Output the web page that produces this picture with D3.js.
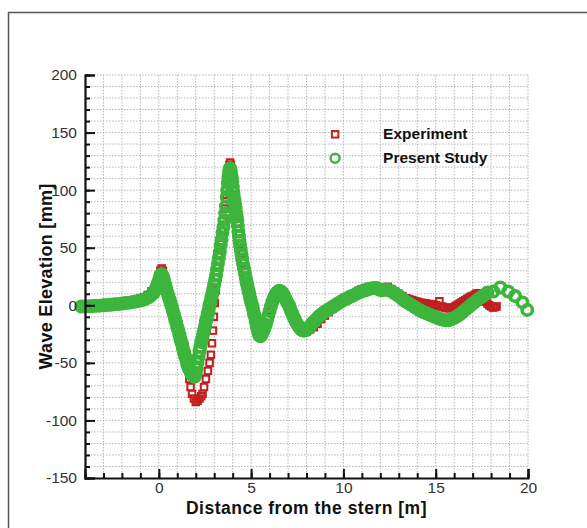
<!DOCTYPE html>
<html>
<head>
<meta charset="utf-8">
<script src="https://cdn.jsdelivr.net/npm/d3@7"></script>
<style>
  body { margin: 0; background: #fff; }
  svg { display: block; font-family: "Liberation Sans", Arial, sans-serif; }
</style>
</head>
<body>
<div id="chart"></div>
<script>
// Experiment (red squares)
var expX = [-3.8, -3.4, -3.0, -2.6, -2.2, -1.8, -1.4, -1.0, -0.8, -0.6, -0.4, -0.25, -0.1, 0.0, 0.08, 0.15, 0.22, 0.3,
  0.4, 0.5, 0.6, 0.7, 0.8, 0.9, 1.0, 1.1, 1.2, 1.3, 1.4, 1.5, 1.55, 1.6, 1.65, 1.72, 1.8, 1.9, 2.0, 2.1, 2.2, 2.3, 2.37,
  2.45, 2.55, 2.66, 2.75, 2.82, 2.88, 2.93, 2.98, 3.03, 3.08, 3.14, 3.2, 3.27, 3.34, 3.42, 3.5, 3.58, 3.65, 3.72, 3.78,
  3.83, 3.86, 3.9, 3.95, 4.0, 4.06,
  4.12, 4.2, 4.28, 4.36, 4.44, 4.52, 4.6, 4.68, 4.76, 4.85, 4.95, 5.05, 5.15, 5.22, 5.3, 5.36, 5.42, 5.5, 5.6, 5.7, 5.8,
  5.9, 6.0, 6.1, 6.2, 6.3, 6.4, 6.5, 6.6, 6.7, 6.8, 6.9, 7.0, 7.1, 7.2, 7.3, 7.4, 7.5, 7.6, 7.7, 7.8, 7.9, 8.0, 8.2, 8.4,
  8.6, 8.8, 9.0, 9.2, 9.4, 9.6, 9.8, 10.0, 10.2, 10.4, 10.6, 10.8, 11.0, 11.2, 11.4, 11.6, 11.8, 12.0, 12.2, 12.4, 12.6,
  12.8, 13.0, 13.2, 13.4, 13.5, 13.6, 13.7, 13.8, 13.9, 14.0, 14.1, 14.2, 14.3, 14.4, 14.5, 14.6, 14.7, 14.8, 14.9, 15.0,
  15.1, 15.2, 15.3, 15.4, 15.5, 15.6, 15.7, 15.8, 15.9, 16.0, 16.1, 16.2, 16.3, 16.4, 16.5, 16.6, 16.7, 16.8, 16.9, 17.0,
  17.1, 17.2, 17.3, 17.4, 17.5, 17.6, 17.7, 17.8, 17.9, 18.0, 18.1, 18.2, 18.3];
var expY = [0, 0.5, 1, 1.5, 2, 2.5, 3.5, 5.5, 7, 9, 12, 15, 20, 26, 30, 32, 30, 24,
  17, 10, 4, -2, -8, -14, -20, -25, -28, -31, -36, -42, -48, -56, -64, -71, -77, -81, -84, -83, -81, -79, -77,
  -71, -64, -57, -50, -43, -33, -22, -10, 2, 13, 24, 34, 44, 54, 64, 73, 84, 96, 108, 117,
  122, 124, 122, 117, 110, 101,
  92, 82, 72, 62, 53, 45, 38, 31, 24, 17, 10, 3, -4, -10, -16, -21, -25, -27, -25, -21, -16,
  -10, -5, 0, 5, 9, 12, 13, 12, 10, 7, 4, 1, -3, -7, -11, -14, -17, -19, -21, -22, -23, -23, -21, -19,
  -16, -12, -9, -6, -3, 0, 2, 5, 7, 8.5, 10, 12.5, 14, 15, 16, 16.5, 16, 15, 15.5, 16, 14,
  12, 10, 8, 6, 5.5, 5, 4.5, 4, 3.5, 3, 2.5, 2, 2, 1.5, 1.5, 1, 1, 0.5, 0.5, 0,
  -0.5, 3.5, -1, -1.5, -2, -2.5, -2.5, -2.5, -2, -1.5, -0.5, 0.5, 1.5, 2.5, 3.5, 4.5, 5.5, 6.5, 7.5, 8,
  9, 10, 10.5, 10, 8, 5.5, 3, 1.5, 0, -1, -2, -1.5, -1];

// Present Study (green circles)
var simX = [-4.2, -4.0, -3.8, -3.6, -3.4, -3.2, -3.0, -2.8, -2.6, -2.4, -2.2, -2.0, -1.8, -1.6, -1.4, -1.2, -1.0, -0.8,
  -0.6, -0.5, -0.4, -0.3, -0.25, -0.2, -0.15, -0.1, -0.05, 0.0, 0.04, 0.08, 0.12,
  0.15, 0.22, 0.28, 0.34, 0.40, 0.46, 0.52, 0.58, 0.64, 0.70, 0.76, 0.82, 0.88, 0.94, 1.00, 1.06, 1.12, 1.18, 1.24, 1.30,
  1.36, 1.42, 1.48, 1.54, 1.60, 1.66, 1.72, 1.78, 1.84,
  1.90, 1.95, 2.00, 2.05, 2.10, 2.15, 2.20, 2.25, 2.30, 2.35, 2.40, 2.45, 2.50, 2.55, 2.60, 2.65, 2.70, 2.75, 2.80, 2.85,
  2.90, 2.95, 3.00, 3.05, 3.10, 3.15, 3.20, 3.25, 3.30, 3.35, 3.40, 3.45, 3.50, 3.55, 3.60, 3.64, 3.68, 3.71, 3.74, 3.77,
  3.80, 3.83, 3.86, 3.89, 3.92,
  3.95, 3.98, 4.01, 4.04, 4.07, 4.10, 4.13, 4.16, 4.19, 4.22, 4.25, 4.28, 4.31, 4.34, 4.37, 4.40, 4.44, 4.48, 4.52, 4.56,
  4.61, 4.66, 4.71, 4.75, 4.80, 4.85, 4.90, 4.95, 5.00, 5.05, 5.10, 5.15, 5.20, 5.25, 5.30, 5.35, 5.40, 5.45, 5.50, 5.55,
  5.60, 5.65,
  5.72, 5.79, 5.86, 5.93, 6.0, 6.07, 6.14, 6.21, 6.28, 6.35, 6.42, 6.49, 6.56, 6.63, 6.7, 6.77, 6.84, 6.91, 6.98, 7.05,
  7.12, 7.19, 7.26, 7.33, 7.4, 7.47, 7.54, 7.61, 7.68, 7.75, 7.82, 7.9, 7.98, 8.06, 8.14, 8.22,
  8.35, 8.5, 8.65, 8.8, 8.95, 9.1, 9.25, 9.4, 9.55, 9.7, 9.85, 10.0, 10.15, 10.3, 10.45, 10.6, 10.75, 10.9, 11.05, 11.2,
  11.35, 11.5, 11.65, 11.8, 11.95, 12.1, 12.25, 12.4, 12.55, 12.7, 12.85, 13.0, 13.15, 13.3, 13.45, 13.6, 13.75, 13.9,
  14.05, 14.2, 14.35, 14.5, 14.65, 14.8, 14.95, 15.1, 15.25, 15.4, 15.55, 15.7, 15.85, 16.0, 16.15, 16.3, 16.45, 16.6,
  16.75, 16.9, 17.05, 17.2, 17.35, 17.5, 17.65, 17.8,
  18.12, 18.5, 18.93, 19.3, 19.7, 19.96];
var simY = [-1, -1, -0.8, -0.6, -0.5, -0.3, 0, 0.2, 0.5, 0.8, 1.1, 1.5, 1.9, 2.3, 2.8, 3.4, 4.1, 5,
  6.5, 7.5, 9, 10.5, 12, 13, 14.5, 16.5, 19, 21, 23, 25, 26.5,
  27, 25, 22, 18, 15, 11, 8, 5, 2, -1, -5, -8, -12, -15, -19, -22, -26, -30, -33, -37,
  -41, -44, -47, -51, -54, -56, -58, -60, -61,
  -62, -62, -59, -55, -50, -45, -40, -36, -32, -29, -25, -22, -18, -14, -11, -7, -4, 0, 3, 7,
  10, 14, 18, 22, 26, 31, 36, 41, 46, 52, 57, 63, 68, 74, 80, 86, 94, 100, 106, 111,
  115, 118, 119, 117, 114,
  111, 107, 103, 98, 94, 91, 87, 84, 80, 77, 73, 69, 64, 60, 56, 52, 48, 44, 40, 36,
  32, 28, 24, 20, 17, 13, 10, 6, 3, 0, -3, -7, -10, -14, -18, -21, -24, -26, -27, -26,
  -24, -22,
  -20, -17, -13, -9, -5, -1, 2.5, 5.5, 8, 10, 11.5, 12.3, 12.5, 12, 10.5, 9, 6.5, 4, 2, 0,
  -3, -6, -8.5, -11, -13.5, -15.5, -17.5, -19, -20.5, -21.5, -22, -22, -21.5, -20.5, -19, -17.5,
  -15, -12.5, -10, -8, -6, -4.5, -3, -1.5, 0, 1.5, 3, 4.5, 5.5, 7, 8, 9, 10.5, 11.5, 12.5, 13,
  14, 14.5, 15, 15, 13.5, 13, 13.5, 13.5, 12.5, 11, 9.5, 8, 6, 4, 2.5, 1, -0.5, -2,
  -3.5, -5, -6, -7, -8, -9, -10, -11, -12, -12.5, -13, -13, -12, -11, -9.5, -8, -6, -4,
  -2, 0, 2, 4, 6, 7.5, 9, 11,
  12, 15.5, 12, 8, 2.5, -4];

var xTicks = [0, 5, 10, 15, 20];
var yTicks = [-150, -100, -50, 0, 50, 100, 150, 200];
var legendNames = ["Experiment", "Present Study"];

var svgWidth = 587;
var svgHeight = 528;
var margin = {top: 75, left: 85, right: 59, bottom: 50};
var width = svgWidth - margin.left - margin.right;
var height = 403;

var red = "#c0201f";
var green = "#3cb53c";

var svg = d3.select("#chart").append("svg")
    .attr("width", svgWidth)
    .attr("height", svgHeight);

// outer frame
svg.append("rect")
    .attr("x", 8.5).attr("y", 12.5)
    .attr("width", 700).attr("height", 700)
    .attr("fill", "none")
    .attr("stroke", "#555")
    .attr("stroke-width", 1.5);

var chartGroup = svg.append("g")
    .attr("transform", `translate(${margin.left}, ${margin.top})`);

var x = d3.scaleLinear().domain([-4, 20]).range([0, width]);
var y = d3.scaleLinear().domain([-150, 200]).range([height, 0]);

// dotted grid
chartGroup.append("g")
    .selectAll("line")
    .data(d3.range(-3, 21))
    .enter().append("line")
    .attr("x1", d => x(d)).attr("x2", d => x(d))
    .attr("y1", 0).attr("y2", height)
    .attr("stroke", "#b5b5b5")
    .attr("stroke-width", 1)
    .attr("stroke-dasharray", "1.5,1.5");

chartGroup.append("g")
    .selectAll("line")
    .data(d3.range(-140, 201, 10))
    .enter().append("line")
    .attr("x1", 0).attr("x2", width)
    .attr("y1", d => y(d)).attr("y2", d => y(d))
    .attr("stroke", "#b5b5b5")
    .attr("stroke-width", 1)
    .attr("stroke-dasharray", "1.5,1.5");

// Experiment squares
var sq = 6.5;
chartGroup.append("g")
    .selectAll("rect")
    .data(expX.map((d, i) => [d, expY[i]]))
    .enter().append("rect")
    .attr("x", d => x(d[0]) - sq / 2)
    .attr("y", d => y(d[1]) - sq / 2)
    .attr("width", sq).attr("height", sq)
    .attr("fill", "none")
    .attr("stroke", red)
    .attr("stroke-width", 2);

// Present Study circles
chartGroup.append("g")
    .selectAll("circle")
    .data(simX.map((d, i) => [d, simY[i]]))
    .enter().append("circle")
    .attr("cx", d => x(d[0]))
    .attr("cy", d => y(d[1]))
    .attr("r", 5.2)
    .attr("fill", "none")
    .attr("stroke", green)
    .attr("stroke-width", 3.6);

// axes: minor then major ticks, pointing inward
var yMinor = chartGroup.append("g")
    .call(d3.axisLeft(y).tickValues(d3.range(-150, 201, 10)).tickSize(-5).tickFormat(""));
var yMajor = chartGroup.append("g")
    .call(d3.axisLeft(y).tickValues(yTicks).tickSize(-10).tickPadding(8).tickFormat(d => String(d)));

var xMinor = chartGroup.append("g")
    .attr("transform", `translate(0, ${height})`)
    .call(d3.axisBottom(x).tickValues(d3.range(-4, 21)).tickSize(-5).tickFormat(""));
var xMajor = chartGroup.append("g")
    .attr("transform", `translate(0, ${height})`)
    .call(d3.axisBottom(x).tickValues(xTicks).tickSize(-9).tickPadding(4).tickFormat(d => String(d)));

[yMinor, yMajor, xMinor, xMajor].forEach(function (g) {
    g.select(".domain").attr("stroke", "#111").attr("stroke-width", 2.2);
    g.selectAll(".tick line").attr("stroke", "#111").attr("stroke-width", 2);
    g.selectAll(".tick text")
        .attr("fill", "#333")
        .style("font-size", "15.5px")
        .style("font-family", "Liberation Sans, Arial, sans-serif");
});
xMinor.select(".domain").remove();
yMinor.select(".domain").remove();

// axis titles
chartGroup.append("text")
    .attr("transform", "rotate(-90)")
    .attr("x", -height / 2)
    .attr("y", -33)
    .attr("text-anchor", "middle")
    .style("font-size", "18px")
    .style("font-weight", "bold")
    .style("letter-spacing", "0.3px")
    .attr("fill", "#111")
    .text("Wave Elevation [mm]");

chartGroup.append("text")
    .attr("x", width / 2)
    .attr("y", height + 35.5)
    .attr("text-anchor", "middle")
    .style("font-size", "17.5px")
    .style("font-weight", "bold")
    .style("letter-spacing", "0.5px")
    .attr("fill", "#111")
    .text("Distance from the stern [m]");

// legend
var legend = chartGroup.append("g")
    .attr("transform", `translate(${x(9.55)}, ${y(148.5)})`);

legend.append("rect")
    .attr("x", -sq / 2).attr("y", -sq / 2)
    .attr("width", sq).attr("height", sq)
    .attr("fill", "none")
    .attr("stroke", red)
    .attr("stroke-width", 2);

legend.append("circle")
    .attr("cx", 0).attr("cy", 24)
    .attr("r", 4.5)
    .attr("fill", "none")
    .attr("stroke", green)
    .attr("stroke-width", 2.5);

legend.selectAll("text")
    .data(legendNames)
    .enter().append("text")
    .attr("x", 48)
    .attr("y", (d, i) => 5 + i * 24)
    .style("font-size", "15.5px")
    .style("font-weight", "bold")
    .attr("fill", "#111")
    .text(d => d);
</script>
</body>
</html>
